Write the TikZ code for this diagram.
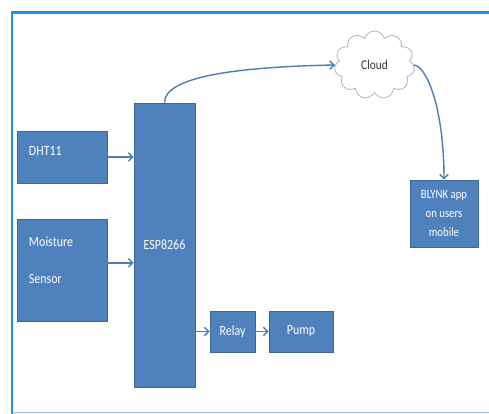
\documentclass[tikz,border=0pt]{standalone}
\usepackage{fontspec}
\setmainfont{Carlito}
\newfontfamily\narrowfont[FakeStretch=0.85]{Carlito}
\usepackage{xcolor}
\usepackage{tikz}
\usetikzlibrary{shapes.symbols, arrows.meta, positioning}

\definecolor{boxblue}{HTML}{4F81BD}
\definecolor{boxedge}{HTML}{3C6698}
\definecolor{linkblue}{HTML}{4A7EBB}
\definecolor{frameblue}{HTML}{2A8BE0}
\definecolor{cloudedge}{HTML}{A7BBD3}

\tikzset{
    block/.style={draw=boxedge, fill=boxblue, line width=0.6pt, text=white, inner sep=0pt,
                  font=\narrowfont\fontsize{10}{12}\selectfont},
    link/.style={draw=linkblue, line width=1pt, -{Straight Barb[length=3pt,width=6pt]}},
}

\begin{document}
\begin{tikzpicture}[x=0.025cm, y=-0.025cm]
        \useasboundingbox (0,0) rectangle (489,414);

        % Frame
        \draw[frameblue, line width=2pt] (12,414) -- (12,12.5) -- (489,12.5);
        \draw[frameblue!55, line width=1pt] (12,412.5) -- (489,412.5);

        % Sensors
        \node[block, minimum width=2.25cm, minimum height=1.3cm, text width=1.65cm, align=left,
              text depth=8.3pt] (dht) at (62,157) {DHT11};
        \node[block, minimum width=2.25cm, minimum height=2.55cm, text width=1.65cm, align=left,
              font=\narrowfont\fontsize{10}{12}\selectfont, text depth=40.5pt] (moist) at (62,270) {Moisture\\[14.2pt]Sensor};

        % Controller
        \node[block, minimum width=1.525cm, minimum height=7.1cm] (esp) at (164.5,245) {ESP8266};

        % Outputs
        \node[block, minimum width=1.125cm, minimum height=1.025cm] (relay) at (232.5,331.5) {Relay};
        \node[block, minimum width=1.6cm, minimum height=1.025cm] (pump) at (301,331.5) {Pump};

        % Cloud and app
        \node[cloud, draw=cloudedge, fill=white, line width=0.6pt, cloud puffs=11, aspect=1.15,
              minimum width=2.0cm, minimum height=1.7cm, text=black!80,
              font=\narrowfont\fontsize{9.5}{12}\selectfont] (cloud) at (374.5,65) {Cloud};
        \node[block, minimum width=1.7cm, minimum height=1.675cm, align=center,
              font=\narrowfont\fontsize{9}{13.5}\selectfont] (blynk) at (444,213.5) {BLYNK app\\on users\\mobile};

        % Links
        \draw[link] (dht.east) -- (dht.east -| esp.west);
        \draw[link] (moist.9) -- (moist.9 -| esp.west);
        \draw[link] (relay.west -| esp.east) -- (relay.west);
        \draw[link] (relay) -- (pump);
        \draw[link] (esp.north) .. controls +(0,-25) and +(-103,2) .. (cloud.west);
        \draw[link] (cloud.east) .. controls +(13,1) and +(0,-70) .. (blynk.north);
\end{tikzpicture}
\end{document}
